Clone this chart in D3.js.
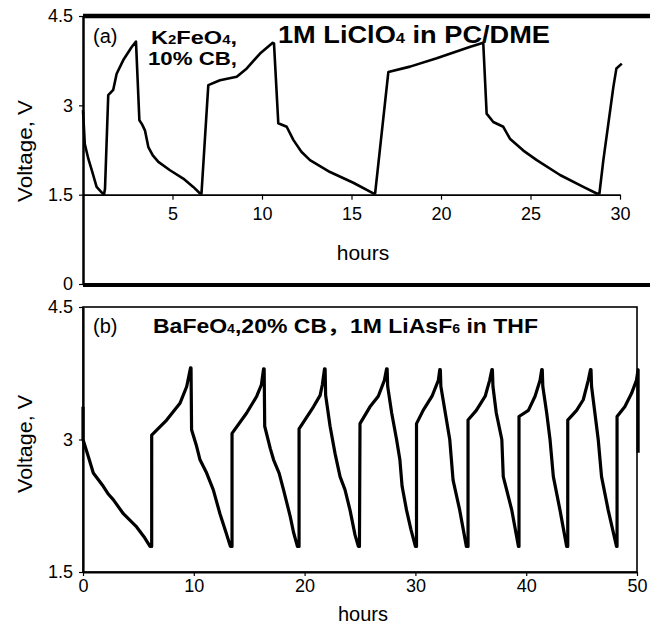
<!DOCTYPE html>
<html><head><meta charset="utf-8">
<script src="https://cdn.jsdelivr.net/npm/d3@7"></script>
<style>body{margin:0;background:#fff}svg{display:block}text{font-family:"Liberation Sans",Arial,sans-serif;fill:#000}</style>
</head><body><svg id="c" width="650" height="628"></svg>
<script>
// Panel (a): K2FeO4, 10% CB, 1M LiClO4 in PC/DME  [hours, volts]
const seriesA = [
  [0,2.92],[0.1,2.35],[0.3,2.1],[0.49,1.91],[0.76,1.63],[1.04,1.54],[1.17,1.5],
  [1.23,1.6],[1.41,3.17],[1.69,3.26],[1.88,3.53],[2.25,3.76],[2.72,3.98],[2.96,4.07],
  [3.15,2.75],[3.3,2.68],[3.46,2.58],[3.65,2.30],[3.9,2.16],[4.21,2.05],[4.86,1.91],[5.6,1.77],[6.16,1.63],[6.54,1.52],
  [6.62,1.52],[7.0,3.34],[7.65,3.42],[8.59,3.48],[9.15,3.62],[9.89,3.87],[10.6,4.05],[10.67,4.04],
  [10.91,2.70],[11.38,2.64],[11.75,2.42],[12.2,2.22],[12.68,2.08],[13.8,1.88],[15.1,1.70],[16.22,1.52],
  [16.32,1.52],[17.06,3.56],[18.27,3.65],[19.76,3.79],[21.6,3.98],[22.36,4.05],
  [22.55,2.86],[22.92,2.72],[23.48,2.64],[23.85,2.44],[24.6,2.24],[25.35,2.08],[26.65,1.83],[27.95,1.63],[28.7,1.52],
  [28.85,1.52],[29.07,2.08],[29.63,3.31],[29.8,3.62],[30.1,3.70]
];
// Panel (b): BaFeO4, 20% CB, 1M LiAsF6 in THF  [hours, volts]
const seriesB = [
  [0,3.37],[0,3.0],[0.5,2.8],[0.93,2.62],[1.83,2.47],[2.3,2.38],[2.73,2.32],[3.64,2.16],[4.84,2.01],[5.5,1.9],[6.05,1.79],
  [6.2,1.79],[6.2,3.05],[7.55,3.22],[8.75,3.41],[9.36,3.6],[9.7,3.81],
  [9.75,3.81],[9.8,3.11],[10.26,2.92],[10.56,2.77],[11.16,2.62],[11.76,2.43],[12.36,2.16],[12.9,1.95],[13.3,1.79],
  [13.45,1.79],[13.45,3.07],[14.77,3.3],[15.68,3.49],[16.1,3.62],[16.3,3.8],
  [16.35,3.8],[16.4,3.15],[16.9,2.9],[17.2,2.77],[17.7,2.62],[18.1,2.43],[18.7,2.13],[19.0,1.95],[19.35,1.79],
  [19.5,1.79],[19.5,3.12],[20.8,3.37],[21.4,3.5],[21.6,3.62],[21.8,3.8],
  [21.85,3.8],[21.9,3.5],[22.3,3.15],[22.75,2.84],[23.2,2.58],[23.65,2.43],[24.1,2.2],[24.55,1.92],[24.85,1.79],
  [24.95,1.79],[25.0,3.18],[25.9,3.37],[26.65,3.49],[27.2,3.67],[27.4,3.8],
  [27.45,3.8],[27.5,3.6],[27.86,3.3],[28.3,3.0],[28.6,2.77],[28.8,2.47],[29.2,2.2],[29.6,1.98],[30.0,1.79],
  [30.1,1.79],[30.1,3.18],[30.7,3.33],[31.5,3.49],[32.07,3.67],[32.2,3.79],
  [32.25,3.79],[32.3,3.6],[32.7,3.3],[33.1,3.0],[33.4,2.54],[34.0,2.2],[34.6,1.79],
  [34.75,1.79],[34.75,3.22],[35.5,3.33],[36.3,3.49],[36.7,3.67],[36.9,3.79],
  [36.95,3.79],[37.0,3.6],[37.3,3.3],[37.8,3.0],[37.93,2.58],[38.7,2.2],[39.3,1.79],
  [39.35,1.79],[39.35,3.26],[40.2,3.33],[40.8,3.49],[41.25,3.67],[41.4,3.79],
  [41.45,3.79],[41.5,3.6],[41.85,3.3],[42.15,3.0],[42.45,2.58],[43.05,2.2],[43.65,1.79],
  [43.75,1.79],[43.75,3.22],[44.55,3.33],[45.15,3.45],[45.6,3.67],[45.8,3.79],
  [45.85,3.79],[45.9,3.6],[46.2,3.3],[46.5,3.0],[46.8,2.58],[47.4,2.2],[48.15,1.79],
  [48.2,1.79],[48.2,3.26],[48.9,3.37],[49.5,3.52],[49.95,3.67],[50.1,3.79],[50.1,2.85]
];
const yTicksA = [0,1.5,3,4.5];
const xTicksA = [5,10,15,20,25,30];
const yTicksB = [1.5,3,4.5];
const xTicksB = [0,10,20,30,40,50];

const svg = d3.select("#c");
const fmt = d => d3.format("~g")(d);

// ---------- Panel (a)
const xA = d3.scaleLinear([0,30],[83,620]);
const yA = d3.scaleLinear([0,4.5],[284,16]);
const gA = svg.append("g");
gA.append("line").attr("x1",83).attr("x2",650).attr("y1",yA(4.5)).attr("y2",yA(4.5)).attr("stroke","#000").attr("stroke-width",4.5);
gA.append("line").attr("x1",83).attr("x2",650).attr("y1",yA(0)+1).attr("y2",yA(0)+1).attr("stroke","#000").attr("stroke-width",4);
const axYA = gA.append("g").attr("transform","translate(83,0)")
  .call(d3.axisLeft(yA).tickValues(yTicksA).tickFormat(fmt).tickSize(4).tickSizeOuter(0).tickPadding(6));
axYA.select(".domain").attr("stroke-width",2.5);
const axXA = gA.append("g").attr("transform",`translate(0,${yA(1.5)})`)
  .call(d3.axisBottom(xA).tickValues(xTicksA).tickFormat(fmt).tickSize(5).tickSizeOuter(0).tickPadding(8));
axXA.select(".domain").attr("stroke-width",1.6);
[axYA,axXA].forEach(a=>{a.selectAll("text").attr("font-size",18).attr("font-family","Liberation Sans, Arial, sans-serif");a.selectAll(".tick line").attr("stroke-width",1.2);});
gA.append("path").datum(seriesA)
  .attr("d",d3.line().x(d=>xA(d[0])).y(d=>yA(d[1])))
  .attr("fill","none").attr("stroke","#000").attr("stroke-width",2.6).attr("stroke-linejoin","round");
gA.append("text").attr("x",363).attr("y",260).attr("text-anchor","middle").attr("font-size",21).text("hours");
gA.append("text").attr("transform","translate(32,151) rotate(-90)").attr("text-anchor","middle").attr("font-size",21).attr("textLength",102).attr("lengthAdjust","spacingAndGlyphs").text("Voltage, V");
gA.append("text").attr("x",93).attr("y",43).attr("font-size",20).text("(a)");
const tK = gA.append("text").attr("x",151).attr("y",44).attr("font-size",19).attr("font-weight","bold").attr("textLength",86).attr("lengthAdjust","spacingAndGlyphs");
tK.append("tspan").text("K");tK.append("tspan").attr("font-size",12).text("2");tK.append("tspan").text("FeO");tK.append("tspan").attr("font-size",12).text("4");tK.append("tspan").text(",");
gA.append("text").attr("x",148).attr("y",65).attr("font-size",19).attr("font-weight","bold").attr("textLength",89).attr("lengthAdjust","spacingAndGlyphs").text("10% CB,");
const tT = gA.append("text").attr("x",278).attr("y",43).attr("font-size",23).attr("font-weight","bold").attr("textLength",272).attr("lengthAdjust","spacingAndGlyphs");
tT.append("tspan").text("1M LiClO");tT.append("tspan").attr("font-size",14).text("4");tT.append("tspan").text(" in PC/DME");

// ---------- Panel (b)
const xB = d3.scaleLinear([0,50],[83,637]);
const yB = d3.scaleLinear([1.5,4.5],[572,307]);
const gB = svg.append("g");
gB.append("rect").attr("x",xB(0)).attr("y",yB(4.5)).attr("width",xB(50)-xB(0)).attr("height",yB(1.5)-yB(4.5)).attr("fill","none").attr("stroke","#000").attr("stroke-width",1.6);
const axYB = gB.append("g").attr("transform","translate(83,0)")
  .call(d3.axisLeft(yB).tickValues(yTicksB).tickFormat(fmt).tickSize(4).tickSizeOuter(0).tickPadding(6));
axYB.select(".domain").attr("stroke-width",2.2);
const axXB = gB.append("g").attr("transform",`translate(0,${yB(1.5)})`)
  .call(d3.axisBottom(xB).tickValues(xTicksB).tickFormat(fmt).tickSize(4).tickSizeOuter(0).tickPadding(3));
axXB.select(".domain").attr("stroke-width",2.2);
[axYB,axXB].forEach(a=>{a.selectAll("text").attr("font-size",18).attr("font-family","Liberation Sans, Arial, sans-serif");a.selectAll(".tick line").attr("stroke-width",1.2);});
gB.append("path").datum(seriesB)
  .attr("d",d3.line().x(d=>xB(d[0])).y(d=>yB(d[1])))
  .attr("fill","none").attr("stroke","#000").attr("stroke-width",3.2).attr("stroke-linejoin","round");
gB.append("text").attr("x",363).attr("y",621).attr("text-anchor","middle").attr("font-size",20).text("hours");
gB.append("text").attr("transform","translate(32,444) rotate(-90)").attr("text-anchor","middle").attr("font-size",21).attr("textLength",98).attr("lengthAdjust","spacingAndGlyphs").text("Voltage, V");
gB.append("text").attr("x",93).attr("y",333).attr("font-size",20).text("(b)");
const tB = gB.append("text").attr("x",153).attr("y",333).attr("font-size",19.5).attr("font-weight","bold").attr("textLength",385).attr("lengthAdjust","spacingAndGlyphs");
tB.append("tspan").text("BaFeO");tB.append("tspan").attr("font-size",12).text("4");tB.append("tspan").text(",20% CB");
tB.append("tspan").attr("font-family","Noto Sans CJK SC").text("，");
tB.append("tspan").text("1M LiAsF");tB.append("tspan").attr("font-size",12).text("6");tB.append("tspan").text(" in THF");
</script></body></html>
